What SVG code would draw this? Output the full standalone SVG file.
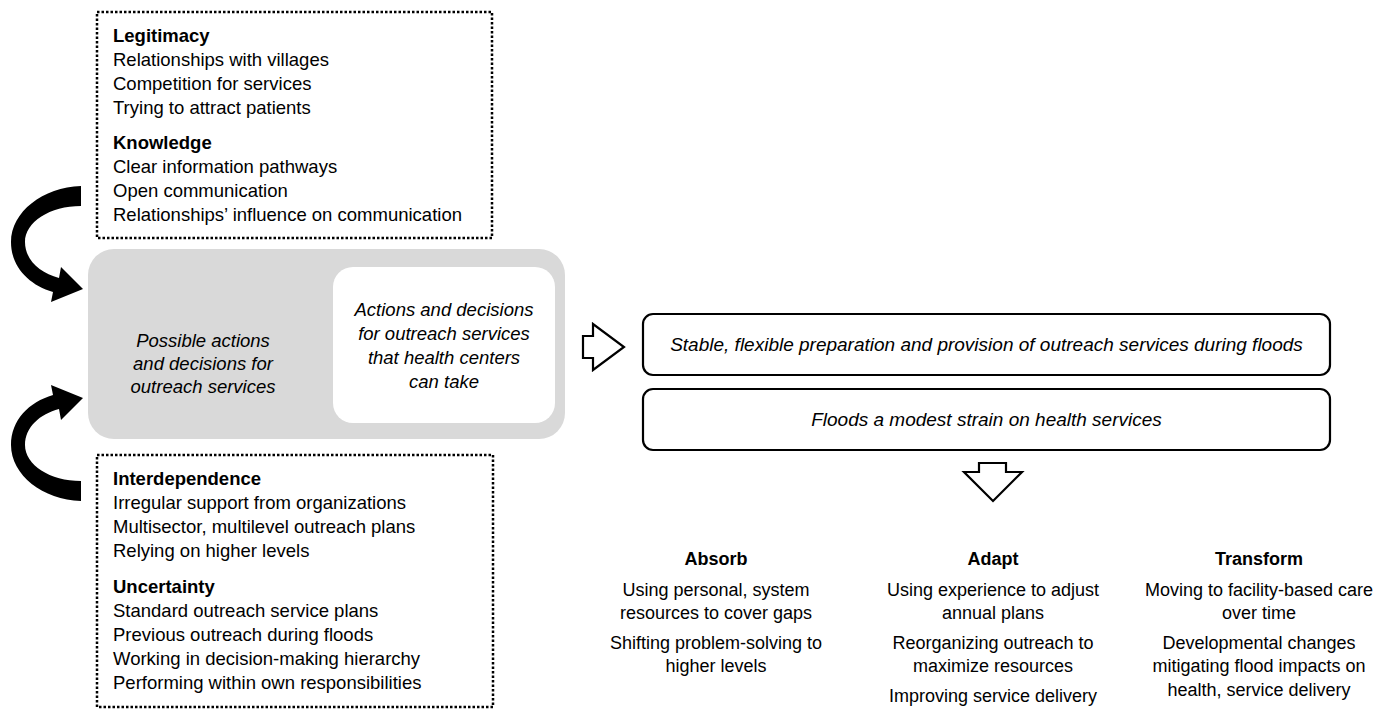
<svg xmlns="http://www.w3.org/2000/svg" width="1381" height="710" viewBox="0 0 1381 710">
<style>
  text { font-family: "Liberation Sans", Arial, sans-serif; fill: #000; }
  .side { font-size: 18.5px; }
  .b { font-weight: bold; }
  .it { font-style: italic; }
  .dot { fill: #fff; stroke: #000; stroke-width: 2.5; stroke-dasharray: 2.5 2; }
  .res { fill: #fff; stroke: #000; stroke-width: 2.2; }
  .blk { fill: #fff; stroke: #000; stroke-width: 2.2; stroke-linejoin: miter; }
  .col { font-size: 18px; text-anchor: middle; }
</style>
<defs>
  <path id="curv" d="M81,186 C43,187 11,212 11,242 C11,267 29,285 53,292 L51,302 L83,289 L61,267 L59,278 C40,273 25,260 25,242 C25,222 50,206 81,206 Z" fill="#000"/>
</defs>
<rect width="1381" height="710" fill="#fff"/>

<g id="node-legitimacy-knowledge">
  <rect class="dot" x="97" y="12" width="395" height="226"/>
  <text class="side b" x="113" y="42">Legitimacy</text>
  <text class="side" x="113" y="66">Relationships with villages</text>
  <text class="side" x="113" y="90">Competition for services</text>
  <text class="side" x="113" y="114">Trying to attract patients</text>
  <text class="side b" x="113" y="149">Knowledge</text>
  <text class="side" x="113" y="173">Clear information pathways</text>
  <text class="side" x="113" y="197">Open communication</text>
  <text class="side" x="113" y="221">Relationships’ influence on communication</text>
</g>

<g id="node-possible-actions">
  <rect x="88" y="249" width="477" height="190" rx="26" fill="#d9d9d9"/>
  <text class="it" font-size="18.5" text-anchor="middle" x="203" y="347">Possible actions</text>
  <text class="it" font-size="18.5" text-anchor="middle" x="203" y="370">and decisions for</text>
  <text class="it" font-size="18.5" text-anchor="middle" x="203" y="393">outreach services</text>
</g>

<g id="node-actions-health-centers">
  <rect x="333" y="267" width="222" height="156" rx="20" fill="#fff"/>
  <text class="it" font-size="18.5" text-anchor="middle" x="444" y="316">Actions and decisions</text>
  <text class="it" font-size="18.5" text-anchor="middle" x="444" y="340">for outreach services</text>
  <text class="it" font-size="18.5" text-anchor="middle" x="444" y="364">that health centers</text>
  <text class="it" font-size="18.5" text-anchor="middle" x="444" y="388">can take</text>
</g>

<g id="node-interdependence-uncertainty">
  <rect class="dot" x="97" y="455" width="396" height="252"/>
  <text class="side b" x="113" y="485">Interdependence</text>
  <text class="side" x="113" y="509">Irregular support from organizations</text>
  <text class="side" x="113" y="533">Multisector, multilevel outreach plans</text>
  <text class="side" x="113" y="557">Relying on higher levels</text>
  <text class="side b" x="113" y="593">Uncertainty</text>
  <text class="side" x="113" y="617">Standard outreach service plans</text>
  <text class="side" x="113" y="641">Previous outreach during floods</text>
  <text class="side" x="113" y="665">Working in decision-making hierarchy</text>
  <text class="side" x="113" y="689">Performing within own responsibilities</text>
</g>

<g id="node-stable-provision">
  <rect class="res" x="643" y="314" width="687" height="61" rx="10"/>
  <text class="it" font-size="19" text-anchor="middle" x="986.5" y="351">Stable, flexible preparation and provision of outreach services during floods</text>
</g>

<g id="node-floods-strain">
  <rect class="res" x="643" y="389" width="687" height="61" rx="10"/>
  <text class="it" font-size="19" text-anchor="middle" x="986.5" y="426">Floods a modest strain on health services</text>
</g>

<g id="node-absorb">
  <text class="col b" x="716" y="565">Absorb</text>
  <text class="col" x="716" y="596">Using personal, system</text>
  <text class="col" x="716" y="619">resources to cover gaps</text>
  <text class="col" x="716" y="649">Shifting problem-solving to</text>
  <text class="col" x="716" y="672">higher levels</text>
</g>

<g id="node-adapt">
  <text class="col b" x="993" y="565">Adapt</text>
  <text class="col" x="993" y="596">Using experience to adjust</text>
  <text class="col" x="993" y="619">annual plans</text>
  <text class="col" x="993" y="649">Reorganizing outreach to</text>
  <text class="col" x="993" y="672">maximize resources</text>
  <text class="col" x="993" y="702">Improving service delivery</text>
</g>

<g id="node-transform">
  <text class="col b" x="1259" y="565">Transform</text>
  <text class="col" x="1259" y="596">Moving to facility-based care</text>
  <text class="col" x="1259" y="619">over time</text>
  <text class="col" x="1259" y="649">Developmental changes</text>
  <text class="col" x="1259" y="672">mitigating flood impacts on</text>
  <text class="col" x="1259" y="696">health, service delivery</text>
</g>

<g id="connectors">
  <use href="#curv"/>
  <use href="#curv" transform="translate(0,687) scale(1,-1)"/>
  <polygon class="blk" points="583,336 593,336 593,324 624,347 593,370 593,358 583,358"/>
  <polygon class="blk" points="979,463 1006,463 1006,472 1022,472 993,501 964,472 979,472"/>
</g>
</svg>
